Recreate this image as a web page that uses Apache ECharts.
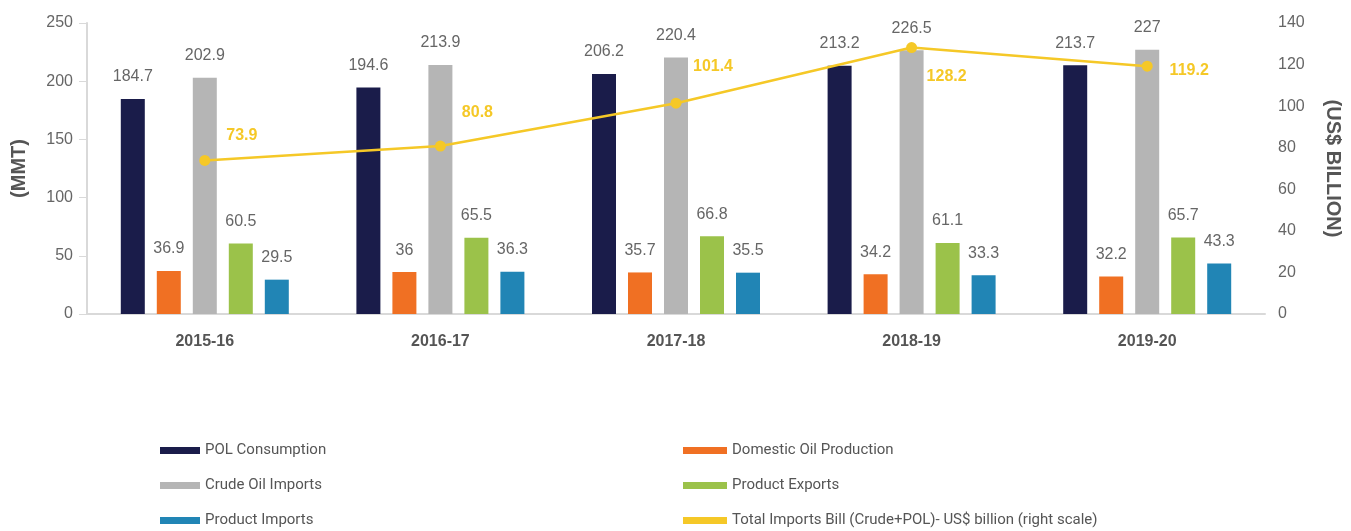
<!DOCTYPE html>
<html>
<head>
<meta charset="utf-8">
<script src="https://cdn.jsdelivr.net/npm/echarts@6/dist/echarts.min.js"></script>
<style>
  html, body { margin: 0; padding: 0; background: #fff; }
  #chart { width: 1351px; height: 531px; }
</style>
</head>
<body>
<div id="chart"></div>
<script>
// Fiscal years on the category axis
const years = ['2015-16', '2016-17', '2017-18', '2018-19', '2019-20'];

// Volumes in million metric tonnes (left scale)
const polConsumption = [184.7, 194.6, 206.2, 213.2, 213.7];
const domesticProduction = [36.9, 36, 35.7, 34.2, 32.2];
const crudeImports = [202.9, 213.9, 220.4, 226.5, 227];
const productExports = [60.5, 65.5, 66.8, 61.1, 65.7];
const productImports = [29.5, 36.3, 35.5, 33.3, 43.3];

// Import bill in US$ billion (right scale)
const importBill = [73.9, 80.8, 101.4, 128.2, 119.2];

const seriesNames = [
  'POL Consumption',
  'Domestic Oil Production',
  'Crude Oil Imports',
  'Product Exports',
  'Product Imports',
  'Total Imports Bill (Crude+POL)- US$ billion (right scale)'
];

const colors = ['#1a1c4a', '#f07023', '#b5b5b5', '#9bc24a', '#2185b5', '#f5c827'];
const textGrey = '#666666';
const fontFamily = 'Liberation Sans, Arial, sans-serif';

// Where each bill label sits relative to its point
const billLabelOffsets = [[37, -25], [37, -33], [37, -37], [35, 29], [42, 4]];

const barValues = [polConsumption, domesticProduction, crudeImports, productExports, productImports];

const barSeries = barValues.map((vals, i) => ({
  name: seriesNames[i],
  type: 'bar',
  yAxisIndex: 0,
  data: vals,
  barWidth: 24,
  barGap: '50%',
  itemStyle: { color: colors[i] },
  label: {
    show: true,
    position: 'top',
    distance: 14,
    color: textGrey,
    fontSize: 16,
    fontFamily: fontFamily
  }
}));

const lineSeries = {
  name: seriesNames[5],
  type: 'line',
  yAxisIndex: 1,
  data: importBill.map((v, i) => ({
    value: v,
    label: { offset: billLabelOffsets[i] }
  })),
  symbol: 'circle',
  symbolSize: 11,
  lineStyle: { color: colors[5], width: 2.5 },
  itemStyle: { color: colors[5] },
  z: 5,
  label: {
    show: true,
    position: 'inside',
    color: colors[5],
    fontSize: 16,
    fontWeight: 'bold',
    fontFamily: fontFamily
  }
};

const legendText = { color: '#555', fontSize: 15, fontFamily: 'Roboto, sans-serif' };

const chart = echarts.init(document.getElementById('chart'), null, { renderer: 'canvas' });

chart.setOption({
  animation: false,
  backgroundColor: '#ffffff',
  grid: { left: 87, right: 81, top: 23, bottom: 217 },
  legend: [
    {
      data: [seriesNames[0], seriesNames[2], seriesNames[4]],
      orient: 'vertical',
      left: 155,
      top: 438,
      height: 120,
      itemWidth: 40,
      itemHeight: 7,
      itemGap: 20,
      icon: 'rect',
      textStyle: legendText
    },
    {
      data: [seriesNames[1], seriesNames[3], seriesNames[5]],
      orient: 'vertical',
      left: 678,
      top: 438,
      height: 120,
      itemWidth: 44,
      itemHeight: 7,
      itemGap: 20,
      icon: 'rect',
      textStyle: legendText
    }
  ],
  xAxis: {
    type: 'category',
    data: years,
    axisLine: { lineStyle: { color: '#d9d9d9', width: 2 } },
    axisTick: { show: false },
    axisLabel: {
      color: '#555',
      fontSize: 16,
      fontWeight: 'bold',
      fontFamily: fontFamily,
      margin: 20
    }
  },
  yAxis: [
    {
      type: 'value',
      min: 0,
      max: 250,
      interval: 50,
      name: '(MMT)',
      nameLocation: 'middle',
      nameRotate: 90,
      nameGap: 58,
      nameTextStyle: { color: '#555', fontSize: 20, fontWeight: 'bold', fontFamily: fontFamily },
      axisLine: { show: true, lineStyle: { color: '#d9d9d9', width: 2 } },
      axisTick: { show: true, length: 8, lineStyle: { color: '#d9d9d9', width: 1 } },
      splitLine: { show: false },
      axisLabel: { color: textGrey, fontSize: 16, fontFamily: fontFamily, margin: 14 }
    },
    {
      type: 'value',
      min: 0,
      max: 140,
      interval: 20,
      name: '(US$ BILLION)',
      nameLocation: 'middle',
      nameRotate: -90,
      nameGap: 58,
      nameTextStyle: { color: '#555', fontSize: 20, fontWeight: 'bold', fontFamily: fontFamily },
      axisLine: { show: false },
      axisTick: { show: false },
      splitLine: { show: false },
      axisLabel: { color: textGrey, fontSize: 16, fontFamily: fontFamily, margin: 13 }
    }
  ],
  series: [...barSeries, lineSeries]
});
</script>
</body>
</html>
